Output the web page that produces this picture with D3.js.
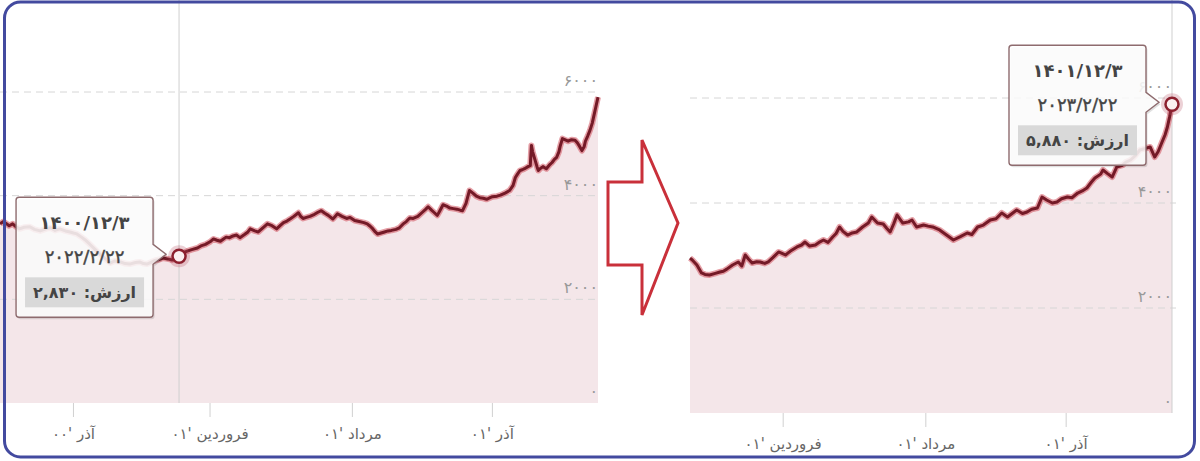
<!DOCTYPE html>
<html><head><meta charset="utf-8">
<script src="https://cdn.jsdelivr.net/npm/d3@7"></script>
<style>
body{margin:0;background:#fff}
svg{display:block}
text{font-family:"DejaVu Sans",sans-serif}
</style>
</head><body>
<svg id="c" width="1200" height="461"></svg>
<script>
// ---------------- DATA ----------------
const leftStart = "2021-09-19";
const leftDays = [0,3,5,8,11,14,17,21,26,30,35,40,44,48,52,57,61,64,67,71,74,78,83,87,92,96,100,105,109,113,118,122,125,128,132,135,139,142,146,150,153,156,160,163,167,172,175,179,183,186,189,192,195,197,200,203,206,209,213,216,218,222,225,229,233,237,241,244,247,250,253,256,260,262,264,267,270,274,277,280,283,286,290,292,294,298,302,305,309,313,317,320,322,324,327,329,332,335,338,341,345,348,351,354,357,360,364,368,371,373,376,378,381,383,386,389,392,395,398,401,403,406,409,412,415,418,421,424,427,429,433,436,440,444,447,449,451,453,455,457,460,462,463,464,466,468,469,471,473,476,479,481,483,485,487,488,490,492,495,498,501,503,505,507,509,510,512,514,516,517,519,521];
const leftValues = [3456,3500,3470,3420,3456,3400,3360,3390,3400,3350,3320,3360,3380,3330,3359,3320,3300,3280,3262,3200,3150,3068,2960,2874,2780,2700,2740,2720,2690,2680,2710,2720,2690,2680,2720,2750,2770,2796,2780,2760,2800,2830,2900,2930,2960,2990,3030,3060,3110,3165,3140,3120,3170,3200,3190,3223,3240,3190,3250,3300,3359,3320,3300,3380,3456,3420,3360,3420,3480,3510,3553,3600,3670,3600,3560,3580,3600,3640,3680,3710,3660,3620,3550,3600,3650,3600,3560,3580,3520,3500,3480,3456,3420,3380,3300,3260,3280,3300,3320,3330,3350,3380,3450,3500,3570,3560,3600,3680,3740,3786,3720,3680,3620,3700,3825,3800,3760,3750,3740,3720,3710,3850,4100,4050,3990,3960,3950,3930,3960,3980,3990,4010,4050,4100,4200,4350,4420,4485,4500,4520,4560,4580,4970,4850,4700,4550,4485,4530,4560,4520,4600,4640,4700,4740,4850,4950,5100,5080,5050,5080,5070,5020,4950,4870,4950,5050,5150,5260,5400,5500,5700,5900];

const rightStart = "2021-12-30";
const rightDays = [0,2,6,10,13,17,22,26,29,32,37,42,45,48,51,54,58,61,65,68,72,77,80,83,87,93,97,100,104,109,113,116,120,124,127,130,133,137,141,145,150,155,158,163,168,171,174,177,180,185,190,193,197,203,207,211,217,223,229,235,241,245,250,255,261,266,271,276,280,284,289,293,297,302,306,310,315,319,323,328,332,337,341,345,349,352,357,359,363,367,371,376,379,383,387,391,396,400,404,407,410,413,415,417,419];
const rightValues = [2950,2914,2819,2667,2640,2629,2660,2686,2700,2740,2819,2876,2800,3010,2930,2857,2880,2876,2850,2880,2960,3067,3040,3010,3080,3162,3200,3257,3180,3200,3260,3295,3250,3352,3420,3543,3460,3390,3430,3448,3543,3620,3733,3619,3600,3520,3448,3600,3771,3619,3640,3676,3543,3581,3560,3543,3486,3390,3295,3360,3429,3400,3543,3580,3676,3700,3810,3733,3800,3867,3800,3829,3880,3905,4114,4057,4000,4019,4080,4114,4100,4190,4230,4286,4400,4476,4550,4629,4560,4495,4686,4720,4780,4819,4900,5010,5040,5067,4876,4980,5143,5300,5448,5650,5880];

const yTicks = [0, 2000, 4000, 6000];
const leftTickDates = ["2021-11-22", "2022-03-21", "2022-07-23", "2022-11-22"];
const leftTickLabels = ["آذر '۰۰", "فروردین '۰۱", "مرداد '۰۱", "آذر '۰۱"];
const rightTickDates = ["2022-03-21", "2022-07-23", "2022-11-22"];
const rightTickLabels = ["فروردین '۰۱", "مرداد '۰۱", "آذر '۰۱"];

const leftTip = {date: "2022-02-22", jalali: "۱۴۰۰/۱۲/۳", greg: "۲۰۲۲/۲/۲۲", value: 2830};
const rightTip = {date: "2023-02-22", jalali: "۱۴۰۱/۱۲/۳", greg: "۲۰۲۳/۲/۲۲", value: 5880};
const valueLabel = "ارزش:";

// ---------------- HELPERS ----------------
const parse = d3.utcParse("%Y-%m-%d");
const faDigits = s => String(s).replace(/[0-9]/g, d => "۰۱۲۳۴۵۶۷۸۹"[+d]);
const fmt = d3.format(",");

const svg = d3.select("#c");
svg.append("rect").attr("width", 1200).attr("height", 461).attr("fill", "#fff");

function buildSeries(start, days, values) {
  const s = parse(start);
  return days.map((d, i) => ({date: d3.utcDay.offset(s, d), value: values[i]}));
}

function drawPanel(cfg) {
  const g = svg.append("g");
  const x = d3.scaleUtc().domain(cfg.xDomain.map(parse)).range(cfg.xRange);
  const y = d3.scaleLinear().domain([0, 6000]).range(cfg.yRange);
  const data = buildSeries(cfg.start, cfg.days, cfg.values);

  // fill
  g.append("path").datum(data)
    .attr("fill", "#f4e6e9")
    .attr("d", d3.area().x(d => x(d.date)).y0(y(0)).y1(d => y(d.value)));

  // gridlines (dashed)
  g.selectAll(".grid").data(yTicks.filter(v => v > 0)).join("line")
    .attr("x1", cfg.gridX[0]).attr("x2", cfg.gridX[1])
    .attr("y1", d => y(d)).attr("y2", d => y(d))
    .attr("stroke", "#d6d6d6").attr("stroke-width", 1).attr("stroke-dasharray", "7,5");

  // y labels
  g.selectAll(".yl").data(yTicks).join("text")
    .attr("x", cfg.yLabelX).attr("y", d => y(d) - 6)
    .attr("text-anchor", "end").attr("font-size", 16).attr("fill", "#999")
    .attr("letter-spacing", 0.5)
    .text(d => faDigits(d));

  // crosshair
  const tipDate = parse(cfg.tip.date);
  const px = x(tipDate), py = y(cfg.tip.value);
  g.append("line").attr("x1", px).attr("x2", px).attr("y1", 0).attr("y2", y(0))
    .attr("stroke", "#cfcfcf").attr("stroke-width", 1);

  // x axis ticks & labels
  const ticks = cfg.tickDates.map(parse);
  g.selectAll(".xt").data(ticks).join("line")
    .attr("x1", d => x(d)).attr("x2", d => x(d))
    .attr("y1", y(0)).attr("y2", y(0) + 14)
    .attr("stroke", "#d0d0d0");
  g.selectAll(".xl").data(ticks).join("text")
    .attr("x", d => x(d)).attr("y", y(0) + 36)
    .attr("text-anchor", "middle").attr("font-size", 15).attr("fill", "#666")
    .text((d, i) => cfg.tickLabels[i]);

  // line: glow + core
  const line = d3.line().x(d => x(d.date)).y(d => y(d.value));
  g.append("path").datum(data).attr("fill", "none")
    .attr("stroke", "#d2525f").attr("stroke-opacity", 0.55).attr("stroke-width", 6)
    .attr("stroke-linejoin", "round").attr("d", line);
  g.append("path").datum(data).attr("fill", "none")
    .attr("stroke", "#741a27").attr("stroke-width", 3)
    .attr("stroke-linejoin", "round").attr("d", line);

  // marker
  g.append("circle").attr("cx", px).attr("cy", py).attr("r", 11)
    .attr("fill", "#b5485a").attr("fill-opacity", 0.25);
  g.append("circle").attr("cx", px).attr("cy", py).attr("r", 6.5)
    .attr("fill", "#fbeff0").attr("stroke", "#8c1f2e").attr("stroke-width", 2.5);

  // tooltip
  const w = 137, h = 120;
  const bx = px - 26 - w, by = py - 59;
  const tipX = px - 13, ty = py - 2;
  const r = 3;
  const p = `M${bx + r},${by} H${bx + w - r} Q${bx + w},${by} ${bx + w},${by + r} V${ty - 10} L${tipX},${ty} L${bx + w},${ty + 10} V${by + h - r} Q${bx + w},${by + h} ${bx + w - r},${by + h} H${bx + r} Q${bx},${by + h} ${bx},${by + h - r} V${by + r} Q${bx},${by} ${bx + r},${by} Z`;
  g.append("path").attr("d", p).attr("transform", "translate(1.5,2)")
    .attr("fill", "#000").attr("fill-opacity", 0.12);
  g.append("path").attr("d", p)
    .attr("fill", "#fff").attr("fill-opacity", 0.86)
    .attr("stroke", "#8e6b6e").attr("stroke-width", 1.4);
  const cx = bx + w / 2;
  g.append("text").attr("x", cx).attr("y", by + 32).attr("text-anchor", "middle")
    .attr("font-size", 18).attr("font-weight", "bold").attr("fill", "#444").text(cfg.tip.jalali);
  g.append("text").attr("x", cx).attr("y", by + 66).attr("text-anchor", "middle")
    .attr("font-size", 18).attr("fill", "#444").attr("stroke", "#444").attr("stroke-width", 0.4)
    .text(cfg.tip.greg);
  g.append("rect").attr("x", bx + 9).attr("y", by + 80).attr("width", w - 18).attr("height", 30)
    .attr("fill", "#d9d9d9");
  g.append("text").attr("x", cx).attr("y", by + 101).attr("text-anchor", "middle")
    .attr("font-size", 16).attr("font-weight", "bold").attr("fill", "#444")
    .text(valueLabel + " " + faDigits(fmt(cfg.tip.value)));
}

drawPanel({
  start: leftStart, days: leftDays, values: leftValues,
  xDomain: ["2021-09-19", "2023-02-22"], xRange: [0, 598],
  yRange: [403, 92], gridX: [0, 598], yLabelX: 598,
  tickDates: leftTickDates, tickLabels: leftTickLabels, tip: leftTip
});
drawPanel({
  start: rightStart, days: rightDays, values: rightValues,
  xDomain: ["2021-12-30", "2023-02-22"], xRange: [690, 1172],
  yRange: [413, 98], gridX: [690, 1176], yLabelX: 1172,
  tickDates: rightTickDates, tickLabels: rightTickLabels, tip: rightTip
});

// arrow between the panels
svg.append("path")
  .attr("d", "M608,182 L642,182 L642,140 L678,223 L642,315 L642,265 L608,265 Z")
  .attr("fill", "#fff").attr("stroke", "#c9303a").attr("stroke-width", 3).attr("stroke-linejoin", "miter");

// outer frame
svg.append("rect").attr("x", 4.5).attr("y", 2).attr("width", 1190).attr("height", 455)
  .attr("rx", 16).attr("fill", "none").attr("stroke", "#434a9f").attr("stroke-width", 3);
</script>
</body></html>
